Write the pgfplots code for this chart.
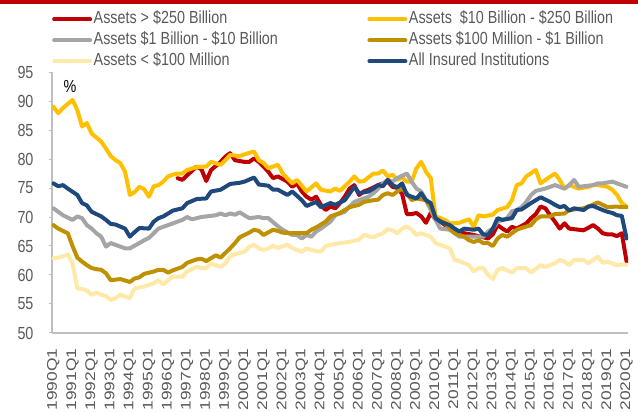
\documentclass[border=0pt]{standalone}
\usepackage{fontspec}
\setmainfont{Liberation Sans}[FakeStretch=0.82]
\newfontfamily\rotfont{Liberation Sans}[FakeStretch=1.24]
\usepackage{pgfplots}
\pgfplotsset{compat=1.18}
\definecolor{cRed}{HTML}{C00000}
\definecolor{cYel}{HTML}{FFC000}
\definecolor{cGray}{HTML}{A5A5A5}
\definecolor{cGold}{HTML}{BF9000}
\definecolor{cCream}{HTML}{FFE9A8}
\definecolor{cBlue}{HTML}{1F497D}
\definecolor{axgray}{HTML}{BFBFBF}
\definecolor{labgray}{HTML}{595959}
\begin{document}
\begin{tikzpicture}
\begin{axis}[name=ax, scale only axis, width=576pt, height=261pt,
  xmin=-0.3, xmax=120.3, ymin=50, ymax=95,
  ytick={50,55,...,95},
  xtick={0,4,...,120},
  xticklabels={1990Q1,1991Q1,1992Q1,1993Q1,1994Q1,1995Q1,1996Q1,1997Q1,1998Q1,1999Q1,2000Q1,2001Q1,2002Q1,2003Q1,2004Q1,2005Q1,2006Q1,2007Q1,2008Q1,2009Q1,2010Q1,2011Q1,2012Q1,2013Q1,2014Q1,2015Q1,2016Q1,2017Q1,2018Q1,2019Q1,2020Q1},
  axis x line*=bottom, axis y line*=left,
  axis line style={draw=axgray, line width=1.2pt},
  tick align=outside, major tick length=3pt,
  ytick style={draw=axgray, line width=1pt},
  xtick style={draw=none},
  /pgf/number format/assume math mode=true,
  yticklabel style={font=\fontsize{17.5}{20}\selectfont, text=labgray, anchor=east, xshift=-12pt},
  xticklabel style={yshift=-9pt, font=\rotfont\fontsize{14}{16}\selectfont, text=labgray, rotate=90, anchor=east},
  every axis plot/.append style={line width=4pt, line join=round, line cap=round},
  legend columns=2,
  legend image code/.code={\draw[#1, line cap=round] (0pt,0pt) -- (36pt,0pt);},
  legend style={at={(0,1)}, anchor=south west, draw=none, fill=none, inner sep=0pt,
    font=\fontsize{17.5}{20}\selectfont, text=labgray,
    nodes={inner xsep=1.5pt, inner ysep=2.25pt, text height=12.5pt, text depth=4pt},
    row sep=0pt, /tikz/column 2/.style={column sep=88pt}},
  legend cell align=left,
]
\addplot[cRed] coordinates {(26,76.7)(27,76.4)(28,77.2)(30,78.7)(31,78.2)(32,76.2)(33,78.1)(35,79.5)(36,80.4)(37,81.0)(38,79.8)(40,79.5)(41,79.5)(42,80.1)(43,79.5)(44,78.7)(45,77.8)(46,76.7)(47,77.0)(49,76.1)(50,75.2)(51,75.8)(52,74.4)(53,73.5)(54,73.0)(55,73.5)(56,72.1)(57,71.2)(58,71.8)(59,71.5)(60,72.4)(61,73.5)(62,74.9)(63,75.5)(64,73.8)(65,74.4)(66,74.7)(68,75.5)(69,75.8)(70,76.1)(71,75.2)(72,75.0)(73,74.0)(74,70.5)(75,70.5)(76,70.7)(77,70.1)(78,69.0)(79,70.7)(80,69.6)(81,69.2)(82,68.6)(84,67.8)(86,67.2)(88,66.9)(90,66.5)(91,66.3)(92,67.0)(93,68.6)(94,68.0)(95,67.5)(96,68.3)(97,68.0)(99,68.9)(100,69.8)(101,70.5)(102,71.8)(103,71.5)(104,70.3)(105,69.2)(106,68.0)(107,68.9)(108,68.0)(109,67.9)(110,67.8)(111,67.7)(113,68.6)(114,68.0)(115,67.2)(116,67.0)(117,67.0)(118,66.7)(119,67.2)(120,62.3)};
\addlegendentry{Assets > \$250 Billion}
\addplot[cYel] coordinates {(0,89.0)(1,87.9)(2,88.8)(3,89.5)(4,90.2)(5,88.4)(6,85.6)(7,86.2)(8,84.4)(10,83.0)(11,81.8)(12,80.5)(13,79.8)(14,79.3)(15,77.8)(16,73.8)(17,74.3)(18,75.2)(19,74.8)(20,73.5)(21,75.3)(22,75.5)(23,76.1)(24,77.0)(25,77.3)(26,77.5)(27,77.5)(28,78.1)(30,78.6)(32,78.7)(33,79.5)(35,79.0)(36,79.8)(37,80.7)(39,80.5)(40,80.8)(42,81.3)(43,79.8)(44,79.3)(45,78.4)(47,79.0)(48,77.5)(50,75.8)(51,76.4)(53,74.4)(55,75.8)(56,74.7)(58,74.4)(59,74.9)(60,74.5)(62,76.1)(63,77.0)(64,76.1)(65,76.2)(67,77.5)(68,77.5)(69,78.0)(70,77.0)(71,77.3)(72,76.4)(73,76.8)(74,76.1)(75,76.1)(76,78.4)(77,79.5)(78,77.8)(79,76.7)(80,70.1)(81,69.8)(82,69.5)(83,68.9)(85,69.0)(86,69.3)(87,69.6)(88,68.3)(89,70.3)(90,70.1)(92,70.4)(93,71.2)(95,71.7)(96,72.9)(97,75.5)(98,75.8)(99,77.0)(101,78.1)(102,75.8)(103,76.4)(105,77.5)(106,76.4)(107,74.9)(108,75.5)(110,74.9)(112,75.2)(113,75.5)(114,75.5)(116,75.2)(117,74.7)(118,73.8)(119,72.4)(120,71.8)};
\addlegendentry{Assets\ \ \$10 Billion - \$250 Billion}
\addplot[cGray] coordinates {(0,71.5)(1,70.9)(2,70.3)(4,69.5)(5,70.1)(6,69.8)(7,68.6)(8,68.0)(9,67.2)(10,66.6)(11,64.9)(12,65.5)(14,64.9)(15,64.6)(16,64.6)(18,65.5)(19,66.0)(20,66.4)(21,67.2)(22,68.0)(24,68.6)(25,68.9)(27,69.5)(28,70.0)(29,69.6)(31,70.0)(32,70.1)(34,70.3)(35,70.6)(36,70.3)(37,70.6)(38,70.4)(39,70.8)(40,70.3)(41,69.8)(43,70.0)(44,69.8)(45,69.8)(47,68.4)(48,67.8)(50,66.9)(51,66.9)(52,66.3)(53,66.9)(54,66.6)(55,67.5)(56,68.0)(58,69.2)(59,70.3)(61,70.9)(62,71.8)(63,72.6)(64,72.9)(66,73.5)(67,74.1)(68,74.9)(69,75.8)(70,76.4)(71,76.1)(72,76.7)(74,77.5)(75,76.1)(76,74.9)(77,74.4)(78,72.9)(79,71.2)(80,69.5)(81,68.0)(83,67.8)(84,67.2)(85,66.6)(88,66.6)(90,66.6)(91,67.5)(92,68.0)(93,69.2)(94,69.5)(95,69.8)(96,71.0)(97,71.2)(98,71.7)(99,72.6)(100,73.8)(101,74.5)(103,74.9)(104,75.2)(105,75.5)(106,75.2)(107,74.9)(108,75.5)(109,76.4)(110,75.2)(111,75.3)(112,75.4)(113,75.5)(114,75.8)(115,75.8)(117,76.1)(118,75.8)(120,75.2)};
\addlegendentry{Assets \$1 Billion - \$10 Billion}
\addplot[cGold] coordinates {(0,68.6)(1,68.0)(3,67.2)(4,65.0)(5,63.0)(6,62.3)(7,61.7)(8,61.2)(9,61.0)(10,60.9)(11,60.3)(12,59.1)(13,59.2)(14,59.3)(16,58.8)(17,59.4)(18,59.6)(19,60.2)(21,60.6)(22,60.9)(23,60.9)(24,60.4)(25,60.8)(27,61.4)(28,62.1)(30,62.7)(31,62.8)(32,62.4)(34,63.4)(35,63.0)(37,64.6)(38,65.5)(39,66.5)(41,67.3)(42,67.8)(43,67.6)(44,66.9)(46,67.8)(47,67.6)(48,67.3)(50,67.2)(52,67.2)(53,67.2)(54,67.8)(55,68.2)(57,69.2)(58,70.1)(60,70.7)(61,71.2)(62,71.7)(64,72.1)(65,72.6)(67,72.9)(68,73.0)(69,73.8)(70,74.1)(71,73.8)(72,74.4)(73,74.9)(74,74.1)(75,72.9)(76,73.2)(78,72.9)(79,71.8)(80,69.8)(82,68.9)(83,68.0)(84,67.2)(86,66.6)(87,66.0)(88,65.7)(89,66.0)(90,65.5)(91,65.5)(92,65.0)(93,66.3)(94,66.9)(95,66.6)(97,67.8)(98,68.1)(100,68.6)(101,69.6)(102,70.1)(104,70.1)(105,70.5)(107,70.6)(108,71.2)(109,71.3)(111,71.5)(112,71.8)(114,72.5)(115,72.1)(116,71.7)(118,71.8)(119,71.7)(120,71.7)};
\addlegendentry{Assets \$100 Million - \$1 Billion}
\addplot[cCream] coordinates {(0,62.9)(1,63.0)(2,63.2)(3,63.6)(4,62.0)(5,57.7)(6,57.6)(7,57.3)(8,56.6)(9,57.0)(10,56.6)(11,56.4)(12,55.7)(13,56.0)(14,56.6)(16,56.0)(17,57.7)(19,58.0)(20,58.3)(21,58.6)(22,59.1)(23,58.4)(25,59.7)(27,59.7)(28,60.6)(30,61.4)(31,61.2)(32,61.2)(33,62.0)(35,61.4)(36,62.0)(37,63.2)(38,63.6)(40,64.0)(41,64.9)(42,65.2)(43,64.6)(44,64.3)(45,64.6)(46,65.0)(47,64.7)(49,65.2)(50,64.6)(52,64.0)(53,64.6)(54,64.3)(56,64.0)(57,65.0)(58,65.2)(60,65.5)(61,65.6)(62,65.7)(64,66.1)(65,66.9)(67,66.5)(68,66.9)(69,67.2)(70,67.9)(71,67.7)(72,67.2)(73,68.0)(74,68.4)(75,67.8)(76,66.9)(77,67.2)(79,66.6)(80,65.5)(81,65.2)(83,64.6)(84,62.6)(85,62.4)(87,61.7)(88,60.6)(89,61.2)(90,61.2)(91,60.0)(92,59.3)(93,60.9)(94,61.2)(96,60.4)(97,61.2)(99,61.2)(100,60.4)(102,61.7)(103,61.4)(105,62.0)(106,62.6)(107,62.3)(108,61.7)(109,62.6)(111,62.6)(112,62.0)(114,63.2)(115,62.1)(116,62.3)(118,61.7)(119,61.8)(120,61.8)};
\addlegendentry{Assets < \$100 Million}
\addplot[cBlue] coordinates {(0,75.8)(1,75.3)(2,75.5)(3,74.9)(5,73.8)(6,72.4)(7,72.0)(8,70.9)(9,70.5)(10,70.1)(11,69.5)(12,68.8)(13,68.7)(15,68.0)(16,66.6)(17,67.4)(18,68.1)(20,68.0)(21,69.2)(22,69.8)(23,70.1)(25,71.1)(27,71.5)(28,72.4)(30,73.1)(32,73.2)(33,74.4)(35,74.7)(37,75.7)(39,75.9)(40,76.1)(42,76.8)(43,75.6)(45,75.4)(46,74.7)(47,74.7)(49,73.8)(50,74.4)(52,72.9)(53,71.9)(55,72.6)(56,71.7)(58,72.4)(59,72.1)(61,72.9)(63,75.2)(64,74.1)(66,74.4)(67,74.9)(68,75.5)(69,75.3)(70,76.4)(71,75.5)(72,75.1)(73,75.8)(74,73.8)(75,73.5)(76,73.2)(77,74.1)(78,72.9)(79,72.4)(80,69.8)(81,69.2)(83,68.6)(84,68.0)(85,67.5)(86,68.0)(88,67.8)(89,68.0)(90,67.0)(91,66.9)(92,68.0)(93,69.8)(94,69.5)(96,69.8)(97,71.2)(98,71.3)(100,72.4)(101,72.9)(102,73.4)(104,72.6)(105,72.1)(106,71.7)(107,71.9)(108,71.1)(109,71.5)(111,71.2)(112,71.8)(113,71.9)(115,71.2)(116,70.9)(117,70.7)(118,70.3)(119,70.2)(120,66.3)};
\addlegendentry{All Insured Institutions}
\end{axis}
\node[font=\fontsize{17.5}{20}\selectfont, text=black] at ([shift={(18pt,247pt)}]ax.south west) {\%};
\pgfresetboundingbox
\path[use as bounding box] ([shift={(-52pt,-79pt)}]ax.south west) rectangle ([shift={(586pt,333pt)}]ax.south west);
\fill[cRed] ([shift={(-52pt,329pt)}]ax.south west) rectangle ([shift={(586pt,333pt)}]ax.south west);
\end{tikzpicture}
\end{document}
